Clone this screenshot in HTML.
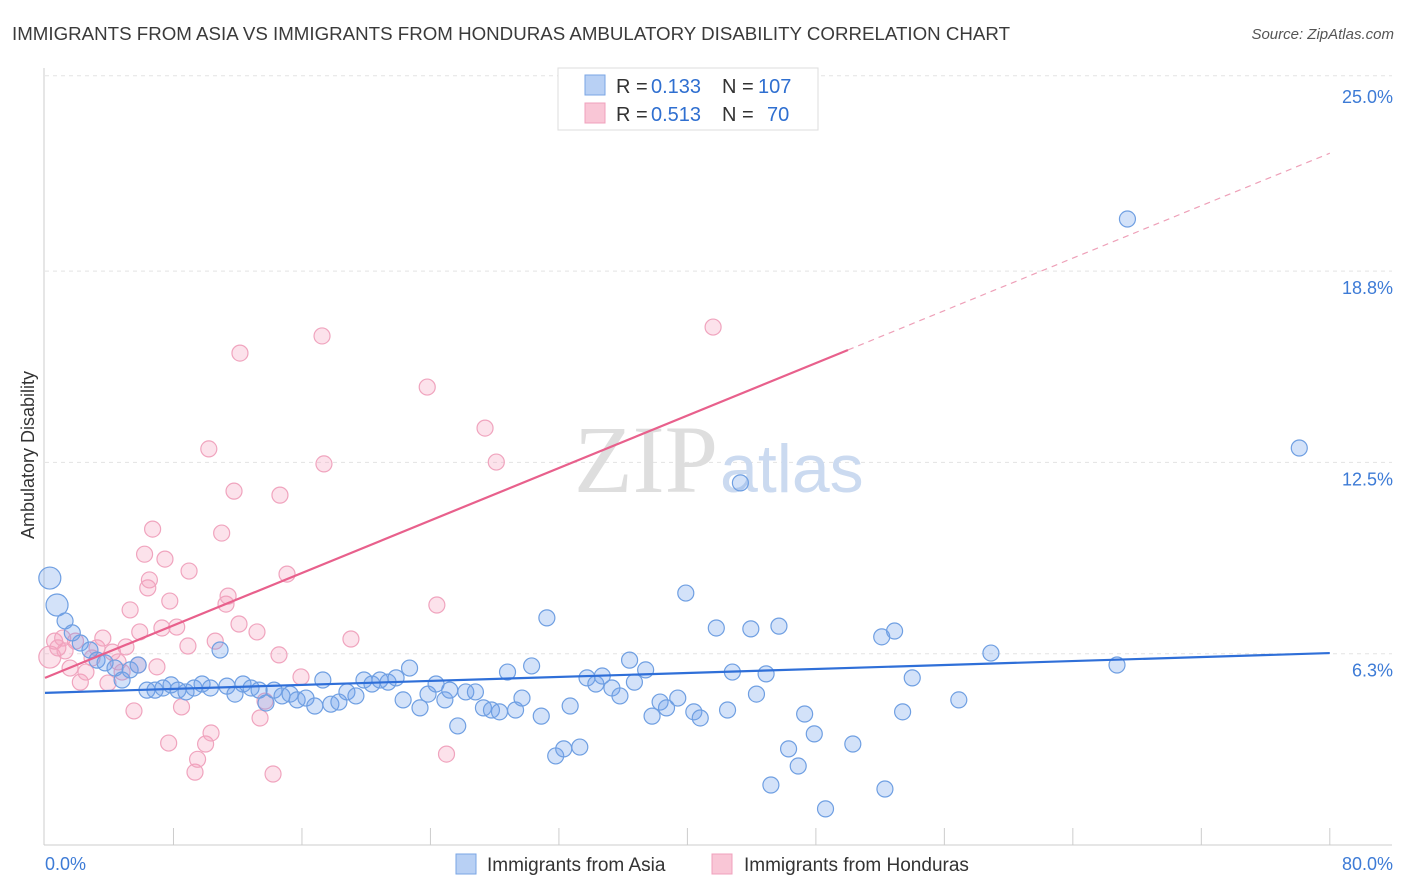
<!DOCTYPE html>
<html><head><meta charset="utf-8"><style>
body{margin:0;background:#fff;font-family:"Liberation Sans",sans-serif}
svg{display:block}
</style></head><body>
<svg id="chart" width="1406" height="892" viewBox="0 0 1406 892">
<text x="12" y="40" font-size="18" fill="#3a3a3a" textLength="998" lengthAdjust="spacingAndGlyphs">IMMIGRANTS FROM ASIA VS IMMIGRANTS FROM HONDURAS AMBULATORY DISABILITY CORRELATION CHART</text>
<text x="1394" y="39" font-size="15" fill="#555" text-anchor="end" font-style="italic">Source: ZipAtlas.com</text>
<g id="grid"></g>
<g id="axes"></g>
<text x="718" y="492" font-size="96" fill="#dedede" text-anchor="end" font-family="Liberation Serif,serif">ZIP</text>
<text x="720" y="492" font-size="68" fill="#cbdaf0">atlas</text>
<g id="pts"></g>
<g id="trend"></g>
<text transform="translate(34,455) rotate(-90)" font-size="18" fill="#333" text-anchor="middle">Ambulatory Disability</text>
<g>
<rect x="558" y="68" width="260" height="62" fill="#fff" stroke="#ddd"/>
<rect x="585" y="75" width="20" height="20" fill="#b8d0f4" stroke="#7aa6e4"/>
<rect x="585" y="103" width="20" height="20" fill="#f9c6d6" stroke="#f0a0bc"/>
<text x="616" y="93" font-size="20" fill="#333">R =</text>
<text x="651" y="93" font-size="20" fill="#2f6fd0">0.133</text>
<text x="722" y="93" font-size="20" fill="#333">N =</text>
<text x="758" y="93" font-size="20" fill="#2f6fd0">107</text>
<text x="616" y="121" font-size="20" fill="#333">R =</text>
<text x="651" y="121" font-size="20" fill="#2f6fd0">0.513</text>
<text x="722" y="121" font-size="20" fill="#333">N =</text>
<text x="767" y="121" font-size="20" fill="#2f6fd0">70</text>
</g>
<g>
<rect x="456" y="854" width="20" height="20" fill="#b8d0f4" stroke="#7aa6e4"/>
<text x="487" y="871" font-size="19" fill="#333">Immigrants from Asia</text>
<rect x="712" y="854" width="20" height="20" fill="#f9c6d6" stroke="#f0a0bc"/>
<text x="744" y="871" font-size="19" fill="#333">Immigrants from Honduras</text>
</g>
</svg>
<script>
const yTicks=[6.25,12.5,18.75,25];
const yTickLabels=["6.3%","12.5%","18.8%","25.0%"];
const xTickLabels=["0.0%","80.0%"];
const asiaX=[0.3,0.75,1.25,1.7,2.2,2.8,3.24,3.74,4.36,4.8,5.3,5.8,6.35,6.85,7.35,7.85,8.28,8.78,9.28,9.78,10.3,10.9,11.33,11.83,12.33,12.83,13.33,13.76,14.26,14.76,15.26,15.7,16.25,16.8,17.3,17.8,18.3,18.8,19.36,19.86,20.36,20.86,21.36,21.86,22.3,22.7,23.35,23.85,24.35,24.9,25.2,25.7,26.2,26.8,27.3,27.8,28.3,28.8,29.3,29.7,30.3,30.9,31.25,31.8,32.3,32.7,33.3,33.75,34.3,34.7,35.3,35.8,36.4,36.7,37.4,37.8,38.3,38.7,39.4,39.9,40.4,40.8,41.8,42.5,42.8,43.3,43.95,44.3,44.9,45.2,45.7,46.3,46.9,47.3,47.9,48.6,50.3,52.1,52.3,52.9,53.4,54.0,56.9,58.9,66.75,67.4,78.1];
const asiaY=[8.72,7.84,7.32,6.93,6.6,6.37,6.04,5.95,5.78,5.39,5.72,5.88,5.06,5.06,5.13,5.23,5.06,5.0,5.13,5.26,5.13,6.37,5.19,4.93,5.26,5.13,5.06,4.64,5.06,4.87,4.93,4.74,4.8,4.54,5.39,4.6,4.67,5.0,4.87,5.39,5.26,5.39,5.32,5.46,4.74,5.78,4.48,4.93,5.26,4.74,5.06,3.89,5.0,5.0,4.48,4.41,4.35,5.65,4.41,4.8,5.85,4.21,7.42,2.91,3.14,4.54,3.2,5.46,5.26,5.52,5.13,4.87,6.04,5.32,5.72,4.21,4.67,4.48,4.8,8.23,4.35,4.15,7.09,4.41,5.65,11.83,7.06,4.93,5.59,1.96,7.15,3.14,2.58,4.28,3.63,1.18,3.3,6.8,1.83,6.99,4.35,5.46,4.74,6.27,5.88,20.45,12.97];
const hondX=[0.3,0.6,0.8,1.1,1.25,1.56,1.9,2.2,2.55,2.93,3.24,3.6,3.92,4.2,4.55,4.8,5.04,5.3,5.54,5.8,5.9,6.2,6.4,6.5,6.7,6.97,7.28,7.47,7.7,7.77,8.2,8.5,8.97,8.9,9.34,9.5,10.0,10.2,10.34,10.6,11.0,11.27,11.4,11.77,12.08,12.14,13.2,13.39,13.7,14.2,14.63,14.57,15.07,15.94,17.25,17.37,19.05,23.8,24.4,25.0,27.4,28.1,41.6];
const hondY=[6.14,6.66,6.44,6.76,6.34,5.78,6.66,5.32,5.65,6.11,6.44,6.76,5.29,6.3,5.98,5.65,6.47,7.68,4.38,5.88,6.96,9.5,8.4,8.66,10.32,5.82,7.09,9.34,3.33,7.97,7.12,4.51,8.95,6.5,2.38,2.8,3.3,12.94,3.66,6.66,10.19,7.87,8.13,11.56,7.22,16.07,6.96,4.15,4.7,2.32,11.43,6.21,8.85,5.49,16.63,12.45,6.73,14.96,7.84,2.97,13.62,12.51,16.92];
const asiaTrend=[4.97,6.27];
const hondTrend=[5.46,22.6];
const hondSolidEnd=50;
const X=v=>45+v*16.06, Y=v=>845-v*30.61;
const NS="http://www.w3.org/2000/svg";
function mk(t,a,p){const e=document.createElementNS(NS,t);for(const k in a)e.setAttribute(k,a[k]);p.appendChild(e);return e;}
const grid=document.getElementById('grid'),axes=document.getElementById('axes');
yTicks.forEach((t,i)=>{
 const l=mk('line',{x1:45,x2:1392,y1:Y(t)-(i==3?4:0),y2:Y(t)-(i==3?4:0),stroke:'#e3e3e3','stroke-dasharray':'4,4'},grid);
 
 
 const tx=mk('text',{x:1393,y:Y(t)+23,'font-size':18,fill:'#3d7bd6','text-anchor':'end'},axes);
 tx.textContent=yTickLabels[i];
 
 
});
mk('line',{x1:44,x2:44,y1:68,y2:845,stroke:'#ccc'},axes);
mk('line',{x1:44,x2:1392,y1:845,y2:845,stroke:'#ccc'},axes);
for(let v=8;v<=80;v+=8){const t=mk('line',{x1:X(v),x2:X(v),y1:828,y2:845,stroke:'#ccc'},axes);
 
 }
const xl0=mk('text',{x:45,y:870,'font-size':18,fill:'#3d7bd6'},axes);xl0.textContent=xTickLabels[0];


const xl1=mk('text',{x:1393,y:870,'font-size':18,fill:'#3d7bd6','text-anchor':'end'},axes);xl1.textContent=xTickLabels[1];


const pts=document.getElementById('pts');
hondX.forEach((x,i)=>{const c=mk('circle',{cx:X(x),cy:Y(hondY[i]),r:i==0?11:8,fill:'rgba(245,160,190,0.3)',stroke:'#f0a4be','stroke-width':1.2},pts);
 
 });
asiaX.forEach((x,i)=>{const c=mk('circle',{cx:X(x),cy:Y(asiaY[i]),r:i<2?11:8,fill:'rgba(110,160,235,0.3)',stroke:'#6f9fe2','stroke-width':1.2},pts);
 
 });
const tr=document.getElementById('trend');
const a=mk('line',{x1:X(0),y1:Y(asiaTrend[0]),x2:X(80),y2:Y(asiaTrend[1]),stroke:'#2f6fd8','stroke-width':2.2},tr);


const hy=v=>hondTrend[0]+(hondTrend[1]-hondTrend[0])*v/80;
const h=mk('line',{x1:X(0),y1:Y(hy(0)),x2:X(hondSolidEnd),y2:Y(hy(hondSolidEnd)),stroke:'#e8608c','stroke-width':2.2},tr);


const hd=mk('line',{x1:X(hondSolidEnd),y1:Y(hy(hondSolidEnd)),x2:X(80),y2:Y(hy(80)),stroke:'#eea0b8','stroke-width':1.2,'stroke-dasharray':'6,5'},tr);


</script>
</body></html>
